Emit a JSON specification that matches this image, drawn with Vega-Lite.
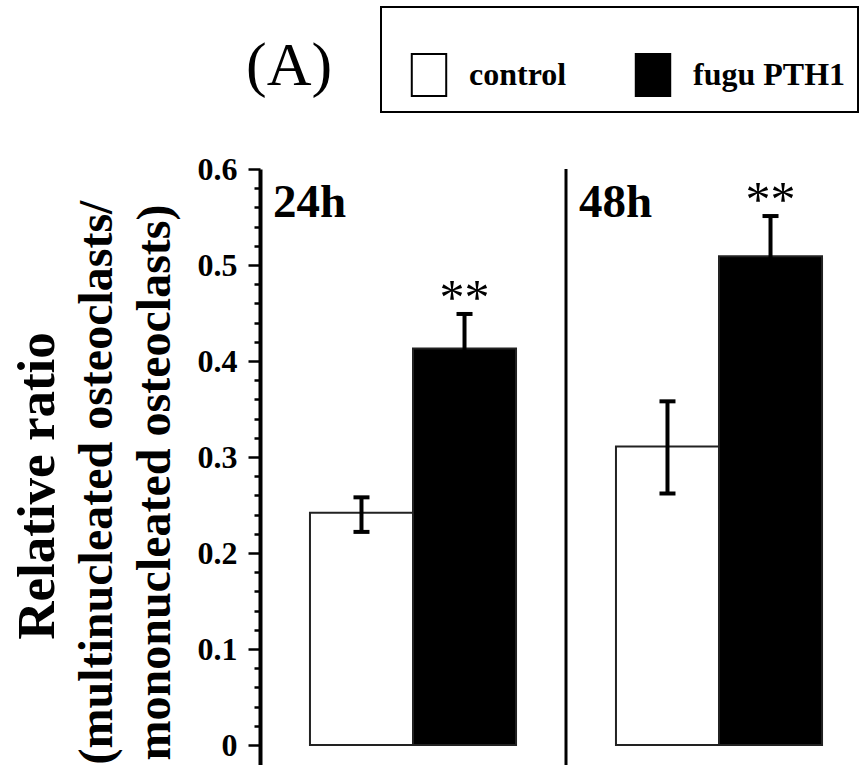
{
  "$schema": "https://vega.github.io/schema/vega-lite/v6.json",
  "autosize": "none",
  "width": 607,
  "height": 596,
  "padding": {"left": 260, "top": 169, "right": 0, "bottom": 0},
  "background": "white",
  "config": {"view": {"stroke": null}, "font": "Liberation Serif"},
  "title": {
    "text": "Relative ratio",
    "orient": "left",
    "anchor": "middle",
    "frame": "group",
    "font": "Liberation Serif",
    "fontSize": 53,
    "fontWeight": "bold",
    "color": "black",
    "offset": 8,
    "dx": -19
  },
  "datasets": {
    "bars": [
      {"t": "24h", "g": "control", "v": 0.242, "lo": 0.222, "hi": 0.258},
      {"t": "24h", "g": "fugu PTH1", "v": 0.413, "lo": 0.377, "hi": 0.449},
      {"t": "48h", "g": "control", "v": 0.311, "lo": 0.262, "hi": 0.358},
      {"t": "48h", "g": "fugu PTH1", "v": 0.509, "lo": 0.467, "hi": 0.551}
    ],
    "groups": [{"t": "24h"}, {"t": "48h"}],
    "panel": [{"lab": "(A)"}],
    "base": [{"z": 0}]
  },
  "encoding": {
    "x": {
      "field": "t",
      "type": "nominal",
      "scale": {"domain": ["24h", "48h"], "paddingInner": 0, "paddingOuter": 0, "range": [0, 612]},
      "axis": null
    }
  },
  "layer": [
    {
      "data": {"name": "bars"},
      "mark": {"type": "bar", "stroke": "#222222", "strokeWidth": 2},
      "encoding": {
        "xOffset": {
          "field": "g",
          "type": "nominal",
          "scale": {"domain": ["control", "fugu PTH1"], "paddingOuter": 0.485, "paddingInner": 0}
        },
        "y": {
          "field": "v",
          "type": "quantitative",
          "scale": {"domain": [-0.0208, 0.6], "nice": false, "zero": false},
          "axis": {
            "values": [0, 0.02, 0.04, 0.06, 0.08, 0.1, 0.12, 0.14, 0.16, 0.18, 0.2, 0.22, 0.24, 0.26, 0.28, 0.3, 0.32, 0.34, 0.36, 0.38, 0.4, 0.42, 0.44, 0.46, 0.48, 0.5, 0.52, 0.54, 0.56, 0.58, 0.6],
            "tickCount": 100,
            "grid": false,
            "domainColor": "black",
            "domainWidth": 4,
            "tickColor": "black",
            "tickWidth": 2.5,
            "tickSize": {"condition": {"test": "round(datum.value*50) % 5 == 0", "value": 12}, "value": 6},
            "labelExpr": "round(datum.value*50) % 5 == 0 ? format(datum.value, '.1~f') : ''",
            "labelOverlap": false,
            "labelFlush": false,
            "labelFont": "Liberation Serif",
            "labelFontSize": 32,
            "labelFontWeight": "bold",
            "labelColor": "black",
            "labelPadding": 11,
            "title": ["(multinucleated osteoclasts/", "mononucleated osteoclasts)"],
            "titleFont": "Liberation Serif",
            "titleFontSize": 48,
            "titleFontWeight": "bold",
            "titleColor": "black",
            "titleLineHeight": 58,
            "titleBaseline": "alphabetic",
            "titleAlign": "center",
            "titleAngle": 270,
            "titleX": -149,
            "titleY": 313
          }
        },
        "fill": {
          "field": "g",
          "type": "nominal",
          "scale": {"domain": ["control", "fugu PTH1"], "range": ["white", "black"]},
          "legend": {
            "orient": "none",
            "direction": "horizontal",
            "legendX": 121,
            "legendY": -162,
            "title": " ",
            "titleFontSize": 20,
            "titlePadding": 14,
            "padding": 12,
            "strokeColor": "black",
            "symbolType": "M-0.82,-1H0.82V1H-0.82Z",
            "symbolSize": 1764,
            "symbolStrokeColor": "black",
            "symbolStrokeWidth": 2,
            "symbolOpacity": 1,
            "symbolOffset": 14,
            "labelFont": "Liberation Serif",
            "labelFontSize": 32,
            "labelFontWeight": "bold",
            "labelColor": "black",
            "labelOffset": 18,
            "labelLimit": 400,
            "columnPadding": 50,
            "encode": {"legend": {"update": {"strokeWidth": {"value": 2}}}}
          }
        }
      }
    },
    {
      "data": {"name": "bars"},
      "mark": {"type": "rule", "color": "black", "strokeWidth": 4},
      "encoding": {
        "xOffset": {"field": "g", "type": "nominal"},
        "y": {"field": "lo", "type": "quantitative"},
        "y2": {"field": "hi"}
      }
    },
    {
      "data": {"name": "bars"},
      "mark": {"type": "tick", "color": "black", "size": 16, "thickness": 4, "opacity": 1},
      "encoding": {
        "xOffset": {"field": "g", "type": "nominal"},
        "y": {"field": "hi", "type": "quantitative"}
      }
    },
    {
      "data": {"name": "bars"},
      "mark": {"type": "tick", "color": "black", "size": 16, "thickness": 4, "opacity": 1},
      "encoding": {
        "xOffset": {"field": "g", "type": "nominal"},
        "y": {"field": "lo", "type": "quantitative"}
      }
    },
    {
      "data": {"name": "bars"},
      "transform": [{"filter": "datum.g == 'fugu PTH1'"}],
      "mark": {"type": "text", "text": "**", "font": "Liberation Serif", "fontSize": 50, "color": "black", "baseline": "alphabetic", "align": "center", "dy": 0},
      "encoding": {
        "xOffset": {"field": "g", "type": "nominal"},
        "y": {"field": "hi", "type": "quantitative"}
      }
    },
    {
      "data": {"name": "groups"},
      "mark": {"type": "text", "font": "Liberation Serif", "fontSize": 47, "fontWeight": "bold", "color": "black", "align": "left", "baseline": "alphabetic", "dx": 13},
      "encoding": {
        "x": {"field": "t", "type": "nominal", "bandPosition": 0},
        "y": {"datum": 0.55},
        "text": {"field": "t"}
      }
    },
    {
      "data": {"name": "panel"},
      "mark": {"type": "text", "font": "Liberation Serif", "fontSize": 62, "color": "black", "align": "left", "baseline": "alphabetic", "dx": -14},
      "encoding": {
        "x": {"datum": "24h", "bandPosition": 0},
        "y": {"datum": 0.6875},
        "text": {"field": "lab"}
      }
    },
    {
      "data": {"name": "base"},
      "mark": {"type": "rule", "color": "black", "strokeWidth": 4},
      "encoding": {"y": {"field": "z", "type": "quantitative"}}
    },
    {
      "data": {"name": "groups"},
      "transform": [{"filter": "datum.t == '48h'"}],
      "mark": {"type": "rule", "color": "black", "strokeWidth": 3},
      "encoding": {"x": {"field": "t", "type": "nominal", "bandPosition": 0}}
    }
  ]
}
